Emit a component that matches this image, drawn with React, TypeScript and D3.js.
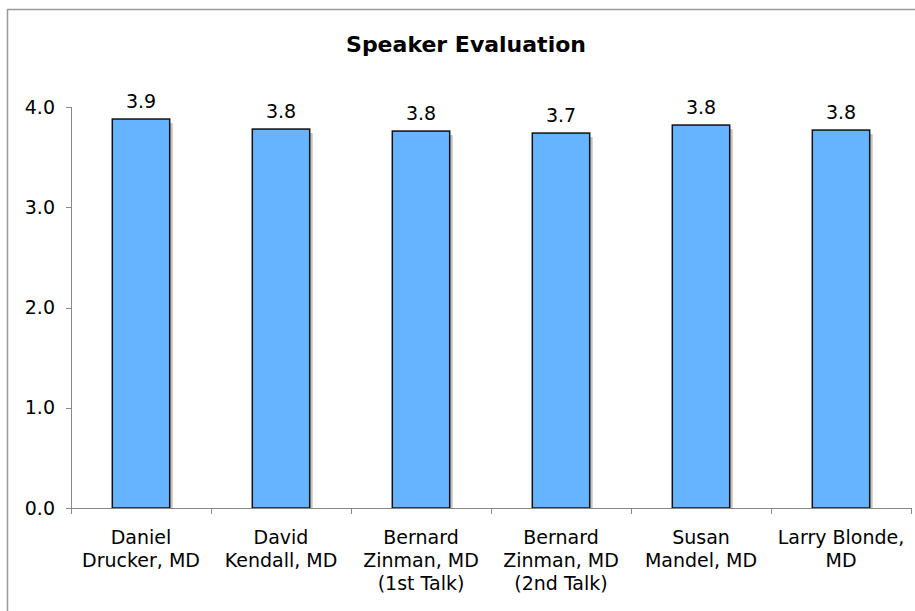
import React, { useEffect, useRef } from 'react';
import * as d3 from 'd3';

const speakers = [
  ['Daniel', 'Drucker, MD'],
  ['David', 'Kendall, MD'],
  ['Bernard', 'Zinman, MD', '(1st Talk)'],
  ['Bernard', 'Zinman, MD', '(2nd Talk)'],
  ['Susan', 'Mandel, MD'],
  ['Larry Blonde,', 'MD'],
];
const scores = [3.88, 3.78, 3.76, 3.74, 3.82, 3.77];
const yTicks = [0, 1, 2, 3, 4];

const App = () => {
  const ref = useRef<SVGSVGElement>(null);

  useEffect(() => {
    const width = 915;
    const height = 611;
    const left = 71, right = 911, top = 107, bottom = 508;
    const font = 'Verdana, "DejaVu Sans", sans-serif';

    const svg = d3.select(ref.current);
    svg.selectAll('*').remove();
    svg.attr('width', width).attr('height', height);

    // outer frame (only top and left visible)
    svg.append('path')
      .attr('d', `M7.5,${height} V9.5 H${width}`)
      .attr('fill', 'none')
      .attr('stroke', '#999')
      .attr('stroke-width', 1.5);

    svg.append('text')
      .attr('x', 466)
      .attr('y', 52)
      .attr('text-anchor', 'middle')
      .style('font-family', font)
      .style('font-size', '22px')
      .style('font-weight', 'bold')
      .text('Speaker Evaluation');

    const x = d3.scaleBand<number>()
      .domain(d3.range(speakers.length))
      .range([left, right])
      .paddingInner(0.59)
      .paddingOuter(0.295);
    const y = d3.scaleLinear().domain([0, 4]).range([bottom, top]);
    const step = x.step();

    // y axis
    const g = svg.append('g');
    g.append('line')
      .attr('x1', left + 0.5).attr('x2', left + 0.5)
      .attr('y1', top).attr('y2', bottom)
      .attr('stroke', '#888');
    g.selectAll('.ytick')
      .data(yTicks)
      .enter()
      .append('line')
      .attr('x1', left - 5).attr('x2', left)
      .attr('y1', d => Math.round(y(d)) + 0.5)
      .attr('y2', d => Math.round(y(d)) + 0.5)
      .attr('stroke', '#888');
    g.selectAll('.ylabel')
      .data(yTicks)
      .enter()
      .append('text')
      .attr('x', 55)
      .attr('y', d => y(d))
      .attr('dy', '0.35em')
      .attr('text-anchor', 'end')
      .style('font-family', font)
      .style('font-size', '19px')
      .text(d => d.toFixed(1));

    // bars with shadow
    scores.forEach((v, i) => {
      const bx = x(i)!;
      const bw = x.bandwidth();
      svg.append('rect')
        .attr('x', bx + 3)
        .attr('y', y(v) + 4)
        .attr('width', bw)
        .attr('height', bottom - y(v) - 4)
        .attr('fill', '#c4c4c4');
      svg.append('rect')
        .attr('x', bx)
        .attr('y', y(v))
        .attr('width', bw)
        .attr('height', bottom - y(v))
        .attr('fill', '#66b3ff')
        .attr('stroke', '#111')
        .attr('stroke-width', 1.5);
      svg.append('text')
        .attr('x', bx + bw / 2)
        .attr('y', y(v) - 11)
        .attr('text-anchor', 'middle')
        .style('font-family', font)
        .style('font-size', '19px')
        .text(v.toFixed(1));
    });

    // x axis
    svg.append('line')
      .attr('x1', left).attr('x2', right + 0.5)
      .attr('y1', bottom + 0.5).attr('y2', bottom + 0.5)
      .attr('stroke', '#888');
    d3.range(speakers.length + 1).forEach(i => {
      const tx = Math.round(left + i * step) + 0.5;
      svg.append('line')
        .attr('x1', tx).attr('x2', tx)
        .attr('y1', bottom).attr('y2', bottom + 6)
        .attr('stroke', '#888');
    });
    speakers.forEach((lines, i) => {
      const t = svg.append('text')
        .attr('text-anchor', 'middle')
        .style('font-family', font)
        .style('font-size', '19px');
      lines.forEach((ln, j) => {
        t.append('tspan')
          .attr('x', x(i)! + x.bandwidth() / 2)
          .attr('y', 544 + j * 23)
          .text(ln);
      });
    });
  }, []);

  return <svg ref={ref} style={{ position: 'absolute', left: 0, top: 0 }}></svg>;
};

export default App;
